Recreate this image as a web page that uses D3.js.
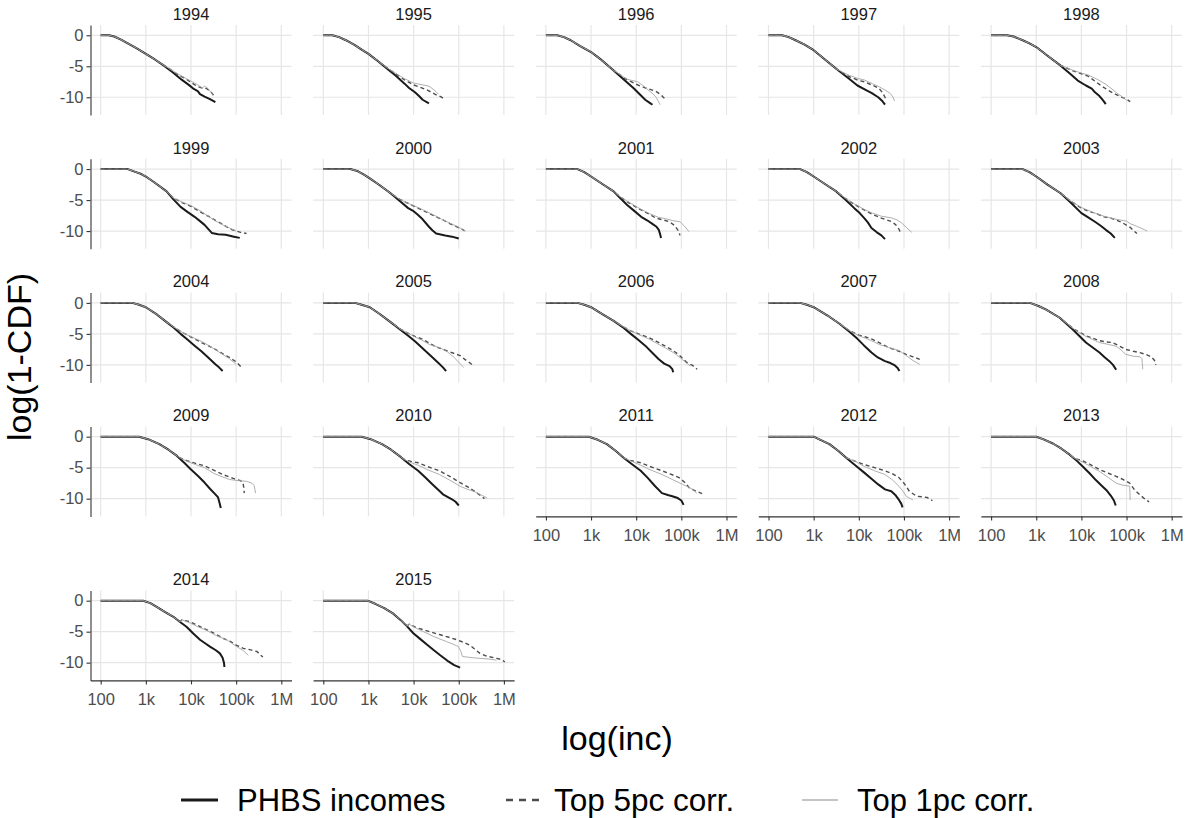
<!DOCTYPE html>
<html>
<head>
<meta charset="utf-8">
<script src="https://cdn.jsdelivr.net/npm/d3@7"></script>
<style>
  html, body { margin: 0; padding: 0; background: #ffffff; }
  svg { display: block; font-family: "Liberation Sans", Arial, sans-serif; }
</style>
</head>
<body>
<svg id="chart" width="1185" height="818"></svg>
<script>
// ---------------- DATA ----------------
const years = ["1994","1995","1996","1997","1998","1999","2000","2001","2002","2003",
               "2004","2005","2006","2007","2008","2009","2010","2011","2012","2013","2014","2015"];

const xTicks = [2, 3, 4, 5, 6];                       // log10(income)
const xTickLabels = ["100", "1k", "10k", "100k", "1M"];
const yTicks = [0, -5, -10];
const yTickLabels = ["0", "-5", "-10"];
const seriesNames = ["PHBS incomes", "Top 5pc corr.", "Top 1pc corr."];

// PHBS incomes: [log10(inc), log(1-CDF)] per year
const phbs = [
  [[2.0,0],[2.18,0],[2.3,-0.2],[2.45,-0.7],[2.6,-1.3],[2.8,-2.1],[3.0,-3.0],[3.2,-3.9],[3.4,-4.9],[3.6,-6.0],[3.8,-7.2],[3.95,-8.0],[4.05,-8.6],[4.15,-9.0],[4.2,-9.5],[4.3,-9.9],[4.42,-10.3],[4.54,-10.8]],
  [[2.0,0],[2.2,0],[2.35,-0.3],[2.5,-0.8],[2.7,-1.6],[2.85,-2.3],[3.0,-3.0],[3.2,-4.1],[3.4,-5.3],[3.6,-6.5],[3.8,-7.8],[3.9,-8.5],[4.03,-9.2],[4.12,-9.8],[4.2,-10.4],[4.34,-11.0]],
  [[2.0,0],[2.25,0],[2.4,-0.3],[2.55,-0.8],[2.75,-1.7],[3.0,-2.7],[3.2,-3.8],[3.5,-5.7],[3.8,-7.6],[3.95,-8.6],[4.05,-9.3],[4.2,-10.4],[4.3,-10.9],[4.36,-11.2]],
  [[2.0,0],[2.3,0],[2.45,-0.3],[2.6,-0.8],[2.8,-1.5],[3.0,-2.4],[3.25,-3.9],[3.5,-5.4],[3.75,-6.8],[3.97,-8.1],[4.15,-8.8],[4.28,-9.3],[4.43,-10.0],[4.52,-10.6],[4.58,-11.2]],
  [[2.0,0],[2.35,0],[2.5,-0.2],[2.7,-0.8],[2.85,-1.3],[3.0,-1.9],[3.25,-3.3],[3.54,-4.9],[3.75,-6.2],[3.92,-7.3],[4.1,-8.1],[4.23,-8.6],[4.3,-9.2],[4.4,-9.8],[4.48,-10.5],[4.54,-11.1]],
  [[2.0,0],[2.6,0],[2.75,-0.4],[2.9,-0.8],[3.0,-1.2],[3.2,-2.2],[3.46,-3.6],[3.6,-4.8],[3.77,-6.1],[3.92,-6.9],[4.08,-7.7],[4.2,-8.4],[4.3,-9.0],[4.4,-9.8],[4.46,-10.3],[4.6,-10.5],[4.77,-10.6],[4.95,-10.9],[5.08,-11.1]],
  [[2.0,0],[2.6,0],[2.75,-0.3],[2.9,-0.9],[3.03,-1.5],[3.25,-2.6],[3.49,-3.9],[3.7,-5.2],[3.88,-6.3],[4.0,-6.8],[4.1,-7.4],[4.2,-8.1],[4.34,-9.3],[4.42,-9.9],[4.5,-10.4],[4.7,-10.7],[4.85,-10.9],[5.0,-11.2]],
  [[2.0,0],[2.7,0],[2.85,-0.5],[3.0,-1.2],[3.25,-2.4],[3.5,-3.6],[3.65,-4.7],[3.8,-5.8],[3.95,-6.7],[4.11,-7.7],[4.25,-8.3],[4.35,-8.8],[4.45,-9.3],[4.5,-9.8],[4.53,-10.5],[4.55,-11.1]],
  [[2.0,0],[2.7,0],[2.85,-0.5],[3.0,-1.2],[3.25,-2.4],[3.5,-3.6],[3.7,-4.9],[3.9,-6.3],[4.02,-7.1],[4.12,-7.9],[4.2,-8.6],[4.28,-9.5],[4.4,-10.2],[4.5,-10.7],[4.58,-11.3]],
  [[2.0,0],[2.7,0],[2.85,-0.5],[3.0,-1.2],[3.25,-2.5],[3.54,-3.9],[3.75,-5.3],[4.0,-7.1],[4.15,-7.8],[4.3,-8.5],[4.42,-9.1],[4.54,-9.8],[4.65,-10.4],[4.74,-11.1]],
  [[2.0,0],[2.7,0],[2.85,-0.3],[3.0,-0.7],[3.25,-1.9],[3.46,-3.1],[3.62,-4.0],[3.77,-5.0],[3.92,-5.9],[4.08,-6.9],[4.23,-7.8],[4.38,-8.8],[4.54,-9.9],[4.62,-10.4],[4.7,-11.0]],
  [[2.0,0],[2.7,0],[2.85,-0.3],[3.03,-0.7],[3.25,-1.8],[3.49,-3.1],[3.7,-4.3],[3.88,-5.3],[4.03,-6.2],[4.18,-7.2],[4.3,-8.0],[4.42,-8.8],[4.55,-9.7],[4.65,-10.4],[4.72,-11.0]],
  [[2.0,0],[2.7,0],[2.85,-0.3],[3.0,-0.7],[3.25,-1.8],[3.5,-2.9],[3.7,-3.9],[3.88,-5.0],[4.05,-6.0],[4.2,-6.9],[4.35,-8.0],[4.5,-9.1],[4.62,-9.8],[4.74,-10.2],[4.8,-10.7],[4.82,-11.2]],
  [[2.0,0],[2.7,0],[2.85,-0.3],[3.0,-0.7],[3.3,-2.0],[3.58,-3.4],[3.8,-4.7],[3.97,-5.8],[4.12,-6.9],[4.28,-8.0],[4.42,-8.8],[4.58,-9.4],[4.7,-9.7],[4.8,-10.1],[4.86,-10.5],[4.9,-11.0]],
  [[2.0,0],[2.86,0],[3.05,-0.5],[3.22,-1.1],[3.52,-2.4],[3.81,-4.3],[3.95,-5.3],[4.1,-6.4],[4.25,-7.2],[4.4,-8.0],[4.52,-8.8],[4.62,-9.4],[4.7,-10.0],[4.77,-10.8]],
  [[2.0,0],[2.85,0],[3.05,-0.4],[3.3,-1.2],[3.5,-2.1],[3.69,-3.1],[3.85,-4.2],[4.0,-5.3],[4.15,-6.3],[4.3,-7.4],[4.42,-8.4],[4.54,-9.3],[4.6,-9.8],[4.63,-10.6],[4.66,-11.5]],
  [[2.0,0],[2.85,0],[3.05,-0.4],[3.3,-1.2],[3.5,-2.1],[3.72,-3.3],[3.9,-4.4],[4.1,-5.5],[4.25,-6.5],[4.42,-7.7],[4.55,-8.6],[4.65,-9.3],[4.75,-9.7],[4.85,-10.1],[4.93,-10.5],[5.0,-11.1]],
  [[2.0,0],[2.95,0],[3.15,-0.5],[3.35,-1.2],[3.55,-2.3],[3.72,-3.4],[3.9,-4.4],[4.1,-5.5],[4.25,-6.6],[4.42,-8.0],[4.57,-9.1],[4.7,-9.4],[4.8,-9.6],[4.92,-9.9],[5.0,-10.3],[5.05,-11.0]],
  [[2.0,0],[3.0,0],[3.15,-0.5],[3.35,-1.2],[3.55,-2.3],[3.72,-3.4],[3.92,-4.6],[4.12,-5.8],[4.3,-6.9],[4.43,-7.7],[4.58,-8.5],[4.72,-8.8],[4.82,-9.5],[4.89,-10.2],[4.94,-10.8],[4.97,-11.4]],
  [[2.0,0],[3.0,0],[3.15,-0.4],[3.37,-1.1],[3.55,-1.9],[3.74,-2.9],[3.9,-3.9],[4.03,-4.8],[4.18,-5.9],[4.32,-7.0],[4.45,-7.9],[4.55,-8.6],[4.65,-9.5],[4.72,-10.3],[4.76,-11.1]],
  [[2.0,0],[2.94,0],[3.1,-0.4],[3.24,-1.0],[3.42,-1.8],[3.61,-2.6],[3.75,-3.4],[3.9,-4.2],[4.05,-5.3],[4.2,-6.3],[4.32,-6.9],[4.42,-7.4],[4.55,-8.0],[4.64,-8.5],[4.7,-9.2],[4.73,-10.0],[4.74,-10.7]],
  [[2.0,0],[2.98,0],[3.15,-0.5],[3.35,-1.2],[3.55,-2.1],[3.71,-3.1],[3.85,-4.1],[4.0,-5.3],[4.15,-6.2],[4.3,-7.1],[4.45,-8.0],[4.59,-8.8],[4.7,-9.4],[4.77,-9.8],[4.9,-10.4],[5.03,-10.8]]
];

// Top 5pc correction: upper tail per year (follows PHBS below its first point)
const top5 = [
  [[3.3,-4.4],[3.5,-5.3],[3.7,-6.3],[3.9,-7.1],[4.0,-7.6],[4.15,-8.3],[4.25,-8.5],[4.35,-8.6],[4.45,-9.2],[4.52,-9.9]],
  [[3.4,-5.2],[3.6,-6.2],[3.8,-7.2],[4.0,-8.0],[4.15,-8.4],[4.26,-8.7],[4.4,-9.2],[4.5,-9.6],[4.6,-9.9],[4.66,-10.2]],
  [[3.55,-5.9],[3.8,-7.2],[4.0,-7.9],[4.1,-8.2],[4.25,-8.6],[4.43,-9.0],[4.55,-9.6],[4.6,-10.0],[4.66,-10.4]],
  [[3.6,-5.9],[3.8,-6.7],[4.0,-7.3],[4.12,-7.5],[4.25,-7.9],[4.35,-8.2],[4.45,-8.6],[4.52,-9.2],[4.58,-10.0],[4.6,-10.3]],
  [[3.6,-5.0],[3.8,-5.7],[4.0,-6.2],[4.15,-6.6],[4.3,-7.4],[4.45,-8.2],[4.6,-8.9],[4.75,-9.5],[4.9,-10.0],[5.0,-10.3],[5.08,-10.7]],
  [[3.6,-4.6],[3.8,-5.4],[4.0,-6.0],[4.2,-6.9],[4.38,-7.6],[4.55,-8.3],[4.7,-8.9],[4.85,-9.6],[5.0,-10.0],[5.1,-10.2],[5.23,-10.4]],
  [[3.7,-4.9],[3.9,-5.6],[4.1,-6.3],[4.3,-7.0],[4.5,-7.7],[4.65,-8.2],[4.8,-8.8],[4.95,-9.3],[5.1,-9.8],[5.13,-10.0]],
  [[3.65,-4.5],[3.85,-5.5],[4.11,-6.6],[4.3,-7.3],[4.43,-7.9],[4.6,-8.2],[4.74,-8.5],[4.85,-9.1],[4.94,-10.0],[4.97,-10.7]],
  [[3.7,-4.7],[3.9,-5.7],[4.12,-6.6],[4.3,-7.3],[4.5,-7.9],[4.62,-8.2],[4.74,-8.5],[4.82,-9.0],[4.9,-9.8],[4.92,-10.4]],
  [[3.75,-5.1],[4.0,-6.3],[4.15,-6.8],[4.3,-7.1],[4.5,-7.7],[4.65,-7.9],[4.77,-8.2],[4.92,-8.7],[5.08,-9.4],[5.15,-9.9],[5.23,-10.4]],
  [[3.62,-3.9],[3.77,-4.6],[3.92,-5.2],[4.08,-5.8],[4.23,-6.4],[4.38,-6.9],[4.54,-7.5],[4.7,-8.2],[4.85,-8.8],[5.0,-9.5],[5.12,-10.4]],
  [[3.7,-4.2],[3.88,-4.9],[4.03,-5.4],[4.18,-5.8],[4.35,-6.5],[4.5,-7.1],[4.65,-7.5],[4.8,-7.9],[5.03,-8.5],[5.15,-9.2],[5.25,-9.7],[5.34,-10.2]],
  [[3.7,-3.8],[3.88,-4.5],[4.05,-5.0],[4.28,-5.6],[4.45,-6.2],[4.65,-7.0],[4.82,-7.7],[4.95,-8.4],[5.12,-9.6],[5.25,-10.1],[5.35,-10.7]],
  [[3.8,-4.5],[4.0,-5.2],[4.15,-5.5],[4.28,-5.8],[4.45,-6.4],[4.66,-7.2],[4.85,-7.7],[5.05,-8.3],[5.2,-8.7],[5.35,-9.1]],
  [[3.81,-4.1],[3.95,-4.7],[4.1,-5.3],[4.25,-5.7],[4.4,-6.1],[4.55,-6.3],[4.69,-6.4],[4.85,-7.0],[4.98,-7.5],[5.15,-7.8],[5.28,-8.0],[5.42,-8.3],[5.55,-8.7],[5.62,-9.3],[5.65,-10.0]],
  [[3.75,-3.4],[3.92,-3.9],[4.1,-4.3],[4.3,-4.7],[4.5,-5.4],[4.7,-6.1],[4.85,-6.5],[5.0,-6.9],[5.1,-7.1],[5.15,-7.4],[5.17,-8.2],[5.18,-9.1]],
  [[3.8,-3.7],[3.95,-4.0],[4.1,-4.2],[4.3,-4.8],[4.57,-5.5],[4.8,-6.4],[5.03,-7.4],[5.2,-8.1],[5.41,-9.1],[5.5,-9.6],[5.57,-10.0]],
  [[3.85,-3.8],[4.1,-4.2],[4.3,-4.8],[4.57,-5.5],[4.75,-6.0],[4.95,-6.6],[5.08,-7.4],[5.18,-8.3],[5.3,-8.7],[5.46,-9.2]],
  [[3.9,-3.9],[4.12,-4.5],[4.35,-5.0],[4.58,-5.5],[4.75,-6.0],[4.89,-6.6],[5.0,-7.5],[5.12,-8.8],[5.28,-9.6],[5.4,-9.7],[5.51,-9.8],[5.63,-10.3]],
  [[3.85,-3.5],[4.03,-3.9],[4.2,-4.5],[4.4,-5.3],[4.6,-5.9],[4.77,-6.4],[4.92,-6.9],[5.07,-7.5],[5.12,-8.0],[5.18,-8.6],[5.3,-9.4],[5.43,-10.2],[5.5,-10.5]],
  [[3.8,-3.1],[3.98,-3.4],[4.15,-4.0],[4.35,-4.7],[4.55,-5.4],[4.72,-6.1],[4.88,-6.6],[5.01,-7.2],[5.16,-7.7],[5.3,-7.9],[5.46,-8.2],[5.59,-9.1]],
  [[3.9,-3.8],[4.05,-4.3],[4.22,-4.7],[4.4,-5.1],[4.59,-5.5],[4.78,-5.9],[4.96,-6.3],[5.1,-6.7],[5.25,-7.2],[5.35,-7.8],[5.47,-8.5],[5.6,-8.9],[5.84,-9.3],[5.95,-9.5],[6.02,-9.9]]
];

// Top 1pc correction: upper tail per year (follows PHBS below its first point)
const top1 = [
  [[3.3,-4.4],[3.5,-5.3],[3.7,-6.2],[3.9,-7.0],[4.0,-7.4],[4.15,-8.0],[4.25,-8.5],[4.3,-8.2],[4.38,-8.6],[4.45,-9.3],[4.48,-9.6]],
  [[3.4,-5.2],[3.6,-6.1],[3.8,-7.0],[4.0,-7.7],[4.2,-8.0],[4.34,-8.2],[4.45,-8.8],[4.5,-9.1],[4.55,-9.5]],
  [[3.55,-5.9],[3.8,-7.1],[4.03,-7.5],[4.15,-8.1],[4.26,-8.8],[4.38,-9.5],[4.45,-10.1],[4.5,-10.8],[4.53,-11.2]],
  [[3.6,-5.8],[3.8,-6.5],[4.0,-7.0],[4.12,-7.2],[4.3,-7.8],[4.45,-8.3],[4.6,-8.9],[4.7,-9.4],[4.76,-10.0],[4.79,-10.6]],
  [[3.6,-5.0],[3.8,-5.6],[4.0,-6.1],[4.15,-6.4],[4.35,-7.1],[4.54,-7.9],[4.7,-8.8],[4.8,-9.4],[4.9,-9.9],[5.0,-10.5]],
  [[3.6,-4.6],[3.8,-5.3],[4.0,-5.9],[4.2,-6.7],[4.38,-7.6],[4.55,-8.4],[4.7,-9.0],[4.85,-9.5],[5.0,-10.0]],
  [[3.7,-4.9],[3.9,-5.6],[4.1,-6.2],[4.3,-6.9],[4.5,-7.6],[4.65,-8.2],[4.8,-8.7],[4.95,-9.2],[5.08,-9.7],[5.15,-10.0]],
  [[3.65,-4.5],[3.85,-5.4],[4.11,-6.5],[4.3,-7.2],[4.5,-7.8],[4.65,-8.0],[4.8,-8.3],[4.97,-8.5],[5.07,-9.2],[5.17,-10.1]],
  [[3.7,-4.7],[3.9,-5.6],[4.12,-6.5],[4.3,-7.1],[4.5,-7.6],[4.74,-7.9],[4.85,-8.2],[4.95,-8.7],[5.05,-9.4],[5.17,-10.2]],
  [[3.75,-5.1],[4.0,-6.2],[4.3,-7.1],[4.5,-7.6],[4.7,-8.0],[4.85,-8.2],[5.0,-8.4],[5.08,-8.8],[5.25,-9.3],[5.4,-9.8],[5.46,-10.0]],
  [[3.62,-3.9],[3.77,-4.6],[3.92,-5.2],[4.08,-5.7],[4.23,-6.2],[4.4,-6.9],[4.55,-7.6],[4.7,-8.3],[4.85,-9.0],[5.0,-9.9]],
  [[3.7,-4.2],[3.88,-4.9],[4.03,-5.5],[4.18,-6.0],[4.35,-6.7],[4.57,-7.2],[4.75,-7.9],[4.9,-8.8],[5.0,-9.6],[5.11,-10.4]],
  [[3.7,-3.8],[3.88,-4.5],[4.05,-5.1],[4.28,-5.8],[4.45,-6.5],[4.65,-7.3],[4.82,-8.0],[4.95,-8.7],[5.08,-9.5],[5.2,-10.2]],
  [[3.8,-4.5],[4.0,-5.3],[4.15,-5.7],[4.28,-6.1],[4.45,-6.7],[4.66,-7.2],[4.9,-7.7],[5.05,-8.5],[5.2,-9.3],[5.35,-9.9]],
  [[3.81,-4.1],[3.95,-4.8],[4.1,-5.4],[4.25,-5.9],[4.4,-6.4],[4.6,-6.7],[4.77,-7.0],[4.88,-7.6],[4.98,-8.3],[5.15,-8.6],[5.3,-8.7],[5.34,-9.0],[5.35,-9.8],[5.36,-10.7]],
  [[3.75,-3.4],[3.92,-4.0],[4.1,-4.5],[4.3,-5.0],[4.5,-5.9],[4.7,-6.5],[4.85,-6.9],[5.05,-7.1],[5.23,-7.2],[5.35,-7.5],[5.4,-7.9],[5.43,-9.1]],
  [[3.8,-3.7],[3.95,-4.2],[4.1,-4.6],[4.3,-5.3],[4.57,-6.1],[4.8,-7.0],[5.03,-8.0],[5.2,-8.5],[5.33,-8.8],[5.5,-9.4],[5.63,-9.9]],
  [[3.85,-3.8],[4.1,-4.6],[4.3,-5.3],[4.57,-6.1],[4.8,-6.9],[5.03,-7.7],[5.15,-8.1],[5.25,-8.5],[5.34,-9.1]],
  [[3.9,-3.9],[4.12,-4.8],[4.35,-5.5],[4.58,-6.1],[4.75,-7.0],[4.89,-8.0],[4.98,-8.8],[5.05,-9.6],[5.12,-9.9],[5.2,-10.2]],
  [[3.85,-3.5],[4.03,-4.1],[4.2,-4.8],[4.4,-5.6],[4.6,-6.6],[4.77,-7.5],[4.9,-7.8],[4.99,-7.9],[5.07,-8.0],[5.08,-10.2]],
  [[3.8,-3.1],[3.98,-3.6],[4.15,-4.2],[4.35,-4.8],[4.55,-5.6],[4.79,-6.3],[5.01,-7.4],[5.15,-8.0],[5.27,-8.8]],
  [[3.9,-3.8],[4.05,-4.4],[4.22,-5.0],[4.45,-5.8],[4.73,-6.6],[4.9,-7.1],[4.99,-7.4],[5.05,-8.2],[5.08,-9.0],[5.3,-9.2],[5.47,-9.3],[5.65,-9.4],[5.84,-9.6]]
];

// ---------------- LAYOUT ----------------
const svg = d3.select("#chart");
const FONT = '"Liberation Sans", Arial, sans-serif';
const panelW = 201, panelH = 90;
const colLeft = c => 90.5 + c * 222.6;
const rowTops = [25, 158.8, 292.6, 426.4, 590.4];

const x = d3.scaleLinear().domain([1.774, 6.226]).range([0, panelW]);
const y = d3.scaleLinear().domain([1.66, -12.86]).range([0, panelH]);

const line = d3.line().x(d => x(d[0])).y(d => y(d[1]));

const styles = [
  { stroke: "#1a1a1a", width: 2.0, dash: null },
  { stroke: "#4d4d4d", width: 1.4, dash: "4,3" },
  { stroke: "#a6a6a6", width: 0.9, dash: null }
];

function withHead(base, tail) {
  const start = tail[0][0];
  return base.filter(p => p[0] < start).concat(tail);
}

years.forEach((yr, i) => {
  const r = Math.floor(i / 5), c = i % 5;
  const g = svg.append("g").attr("transform", `translate(${colLeft(c)},${rowTops[r]})`);

  // grid
  g.selectAll("line.vg").data(xTicks).join("line")
    .attr("x1", d => x(d)).attr("x2", d => x(d))
    .attr("y1", 0).attr("y2", panelH)
    .attr("stroke", "#e6e6e6").attr("stroke-width", 1.2);
  g.selectAll("line.hg").data(yTicks).join("line")
    .attr("x1", 0).attr("x2", panelW)
    .attr("y1", d => y(d)).attr("y2", d => y(d))
    .attr("stroke", "#e6e6e6").attr("stroke-width", 1.2);

  // strip title
  g.append("text").attr("x", panelW / 2).attr("y", -11).attr("dy", "0.35em")
    .attr("text-anchor", "middle").attr("font-size", 16.5).attr("fill", "#1a1a1a")
    .attr("font-family", FONT).text(yr);

  // series
  const series = [phbs[i], withHead(phbs[i], top5[i]), withHead(phbs[i], top1[i])];
  series.forEach((pts, k) => {
    g.append("path").attr("d", line(pts)).attr("fill", "none")
      .attr("stroke", styles[k].stroke).attr("stroke-width", styles[k].width)
      .attr("stroke-dasharray", styles[k].dash)
      .attr("stroke-linejoin", "round").attr("stroke-linecap", "butt");
  });

  // left axis
  if (c === 0) {
    const ax = g.append("g").call(
      d3.axisLeft(y).tickValues(yTicks).tickFormat((d, j) => yTickLabels[j])
        .tickSize(4).tickSizeOuter(0).tickPadding(3));
    ax.select(".domain").attr("stroke", "#333333").attr("stroke-width", 1.1);
    ax.selectAll(".tick line").attr("stroke", "#333333").attr("stroke-width", 1.1);
    ax.selectAll(".tick text").attr("font-size", 16.5).attr("fill", "#4d4d4d").attr("font-family", FONT);
  }
  // bottom axis
  if (i + 5 >= years.length) {
    const ax = g.append("g").attr("transform", `translate(0,${panelH})`).call(
      d3.axisBottom(x).tickValues(xTicks).tickFormat((d, j) => xTickLabels[j])
        .tickSize(4).tickSizeOuter(0).tickPadding(9));
    ax.select(".domain").attr("stroke", "#333333").attr("stroke-width", 1.1);
    ax.selectAll(".tick line").attr("stroke", "#333333").attr("stroke-width", 1.1);
    ax.selectAll(".tick text").attr("font-size", 16.5).attr("fill", "#4d4d4d").attr("font-family", FONT);
  }
});

// axis titles
svg.append("text").attr("x", 617).attr("y", 750).attr("text-anchor", "middle")
  .attr("font-size", 34).attr("fill", "#000").attr("font-family", FONT).text("log(inc)");
svg.append("text").attr("transform", "translate(31,357) rotate(-90)").attr("text-anchor", "middle")
  .attr("font-size", 34).attr("fill", "#000").attr("font-family", FONT).text("log(1-CDF)");

// legend
const legendKeys = [
  { x1: 181, x2: 218, tx: 237, w: 3.0, stroke: "#1a1a1a", dash: null, fs: 31 },
  { x1: 506, x2: 539, tx: 554, w: 2.6, stroke: "#4d4d4d", dash: "7,6", fs: 31.5 },
  { x1: 802, x2: 838, tx: 857, w: 1.5, stroke: "#b0b0b0", dash: null, fs: 31 }
];
seriesNames.forEach((name, k) => {
  const L = legendKeys[k];
  svg.append("line").attr("x1", L.x1).attr("x2", L.x2).attr("y1", 800).attr("y2", 800)
    .attr("stroke", L.stroke).attr("stroke-width", L.w).attr("stroke-dasharray", L.dash);
  svg.append("text").attr("x", L.tx).attr("y", 800).attr("dy", "0.35em")
    .attr("font-size", L.fs).attr("fill", "#000").attr("font-family", FONT).text(name);
});
</script>
</body>
</html>
